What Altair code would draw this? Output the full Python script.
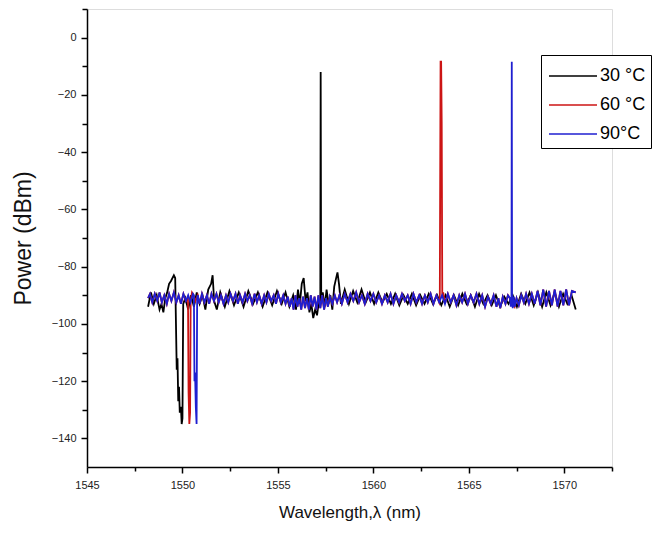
import altair as alt
import pandas as pd

# ---------------- data ----------------
series_names = ["30 °C", "60 °C", "90°C"]
series_colors = ["#000000", "#cc1414", "#1f1fd0"]

x_major = [1545, 1550, 1555, 1560, 1565, 1570]
x_minor = [1547.5, 1552.5, 1557.5, 1562.5, 1567.5, 1572.5]
y_major = [-140, -120, -100, -80, -60, -40, -20, 0]
y_minor = [-130, -110, -90, -70, -50, -30, -10, 10]

# 30 °C trace
black_wl = [1548.20, 1548.35, 1548.50, 1548.65, 1548.80, 1548.90, 1549.00, 1549.10, 1549.20, 1549.30,
            1549.40, 1549.55, 1549.62, 1549.66, 1549.70, 1549.74, 1549.78, 1549.82, 1549.86, 1549.92,
            1549.96, 1550.00, 1550.04, 1550.15, 1550.30, 1550.45, 1550.60, 1550.75, 1550.90, 1551.05,
            1551.20, 1551.35, 1551.50, 1551.58, 1551.66, 1551.80, 1551.98, 1552.22, 1552.46, 1552.70,
            1552.95, 1553.20, 1553.45, 1553.70, 1553.95, 1554.20, 1554.45, 1554.70, 1554.95, 1555.20,
            1555.40, 1555.60, 1555.80, 1555.95, 1556.05, 1556.15, 1556.25, 1556.35, 1556.45, 1556.55,
            1556.65, 1556.75, 1556.85, 1556.95, 1557.05, 1557.15, 1557.22, 1557.24, 1557.26, 1557.27,
            1557.35, 1557.45, 1557.55, 1557.65, 1557.75, 1557.85, 1557.95, 1558.05, 1558.12, 1558.20,
            1558.30, 1558.50, 1558.72, 1558.94, 1559.16, 1559.38, 1559.60, 1559.82, 1560.04, 1560.26,
            1560.48, 1560.70, 1560.92, 1561.14, 1561.36, 1561.58, 1561.80, 1562.02, 1562.24, 1562.46,
            1562.68, 1562.90, 1563.12, 1563.34, 1563.56, 1563.78, 1564.00, 1564.22, 1564.44, 1564.66,
            1564.88, 1565.10, 1565.32, 1565.54, 1565.76, 1565.98, 1566.20, 1566.42, 1566.64, 1566.86,
            1567.08, 1567.30, 1567.52, 1567.74, 1567.96, 1568.18, 1568.40, 1568.62, 1568.84, 1569.06,
            1569.28, 1569.50, 1569.72, 1569.94, 1570.16, 1570.38, 1570.60]
black_db = [-94, -89, -93, -90, -95, -93, -96, -91, -89, -86,
            -85, -83, -84, -100, -116, -112, -127, -122, -131, -129,
            -135, -133, -93, -91, -95, -90, -94, -89, -93, -90,
            -95, -88, -86, -83, -92, -95, -89, -94, -88.5, -93.5,
            -89, -94, -88.5, -93, -89, -94, -89, -93.5, -88.5, -93,
            -89, -94, -90, -95, -88, -93, -86, -84, -92, -89,
            -96, -93, -98, -95, -97, -92, -92, -12, -74, -93,
            -89, -94, -88, -93, -90, -95, -87, -84, -82, -86,
            -93, -88, -93, -88.5, -92.5, -88, -92.5, -89, -93, -89,
            -92.5, -89.5, -93, -89.5, -93.5, -90, -93, -89.5, -93.5, -90,
            -93, -89.5, -93, -90, -93.5, -90, -94, -90, -93.5, -89.5,
            -93, -90, -94, -89.5, -93, -90, -93.5, -90, -94, -90.5,
            -93, -90, -94, -89.5, -93, -89, -93.5, -89, -94, -89,
            -93.5, -89, -94, -89.5, -93, -90, -95]

# common noise floor of the 60 °C / 90 °C traces
floor_wl = [1548.20, 1548.30, 1548.42, 1548.55, 1548.68, 1548.80, 1548.92, 1549.05, 1549.18, 1549.30,
            1549.42, 1549.55, 1549.68, 1549.80, 1549.92, 1550.05, 1550.18, 1550.30, 1550.42, 1550.55,
            1550.68, 1550.80, 1550.90, 1551.02, 1551.15, 1551.28, 1551.40, 1551.52, 1551.65, 1551.78,
            1551.90, 1552.02, 1552.15, 1552.28, 1552.40, 1552.52, 1552.65, 1552.78, 1552.90, 1553.02,
            1553.15, 1553.28, 1553.40, 1553.52, 1553.65, 1553.78, 1553.90, 1554.02, 1554.15, 1554.28,
            1554.40, 1554.52, 1554.65, 1554.78, 1554.90, 1555.02, 1555.15, 1555.28, 1555.40, 1555.52,
            1555.62, 1555.72, 1555.82, 1555.92, 1556.02, 1556.12, 1556.22, 1556.32, 1556.42, 1556.52,
            1556.62, 1556.72, 1556.82, 1556.92, 1557.02, 1557.12, 1557.22, 1557.32, 1557.42, 1557.52,
            1557.62, 1557.72, 1557.85, 1557.98, 1558.10, 1558.22, 1558.35, 1558.50, 1558.65, 1558.80,
            1558.95, 1559.10, 1559.25, 1559.40, 1559.55, 1559.70, 1559.85, 1560.00, 1560.15, 1560.30,
            1560.45, 1560.60, 1560.75, 1560.90, 1561.05, 1561.20, 1561.35, 1561.50, 1561.65, 1561.80,
            1561.95, 1562.10, 1562.25, 1562.40, 1562.55, 1562.70, 1562.85, 1563.00, 1563.15, 1563.30,
            1563.45, 1563.60, 1563.75, 1563.90, 1564.05, 1564.20, 1564.35, 1564.50, 1564.65, 1564.80,
            1564.95, 1565.10, 1565.25, 1565.40, 1565.55, 1565.70, 1565.85, 1566.00, 1566.15, 1566.30,
            1566.45, 1566.55, 1566.65, 1566.78, 1566.92, 1567.05, 1567.40, 1567.50, 1567.62, 1567.75,
            1567.88, 1568.00, 1568.15, 1568.30, 1568.45, 1568.60, 1568.75, 1568.90, 1569.05, 1569.20,
            1569.35, 1569.50, 1569.65, 1569.80, 1569.95, 1570.10, 1570.25, 1570.40, 1570.60]
floor_db = [-91, -89.5, -92.5, -89.5, -92, -89, -92.5, -90, -93, -89.5,
            -92, -89, -92.5, -90, -93, -89.5, -92, -90, -92.5, -89.5,
            -92, -90, -93, -89.5, -92.5, -90, -93, -89.5, -92, -89.5,
            -92.5, -90, -93, -90, -92.5, -89.5, -92, -89.5, -93, -90,
            -92.5, -89.5, -92, -90, -93, -89.5, -92.5, -90, -93, -90,
            -92.5, -89.5, -92, -90, -93, -89.5, -92.5, -90, -93, -90.5,
            -94, -91, -95, -90, -94, -91, -95, -90.5, -94.5, -91,
            -95, -90, -94, -90.5, -95, -90, -94.5, -90, -95, -91,
            -94, -90.5, -93, -90, -92.5, -90, -93, -89.5, -92.5, -89.5,
            -92, -89, -92.5, -90, -93, -89.5, -92, -89.5, -92.5, -90,
            -93, -90, -92.5, -89.5, -93, -90, -92.5, -89.5, -92, -90,
            -93, -89.5, -92.5, -90, -93, -90, -92.5, -89.5, -93, -90,
            -92.5, -90, -93, -89.5, -92.5, -90, -93.5, -90, -92.5, -89.5,
            -93, -90, -92.5, -89.5, -93, -90, -94, -90.5, -93, -90,
            -94, -91, -94.5, -90.5, -93, -90, -94, -91, -93.5, -90,
            -92.5, -89.5, -93, -89.5, -93, -88.5, -93.5, -88, -94, -88.5,
            -93.5, -88, -94, -88.5, -93.5, -88, -93.5, -88.5, -89]

# features (dip and lasing peak) of the 60 °C trace
red_feat_wl = [1550.29, 1550.32, 1550.36, 1550.40, 1550.43, 1550.50,
               1563.48, 1563.52, 1563.55, 1563.58, 1563.61, 1563.66]
red_feat_db = [-91, -124, -135, -131, -92, -89,
               -91, -8.4, -8.4, -30, -91, -89]
red_windows = [(1550.27, 1550.52), (1563.46, 1563.70)]

# features (dip and lasing peak) of the 90 °C trace
blue_feat_wl = [1550.60, 1550.63, 1550.66, 1550.70, 1550.74, 1550.77,
                1567.15, 1567.20, 1567.235, 1567.25, 1567.265, 1567.30, 1567.35]
blue_feat_db = [-90, -120, -117, -129, -135, -91,
                -91, -94, -91, -8.4, -91, -94.5, -90.5]
blue_windows = [(1550.58, 1550.79), (1567.10, 1567.38)]


def build(name, wl, db):
    d = pd.DataFrame({"wl": wl, "db": db}).sort_values("wl").reset_index(drop=True)
    d["idx"] = range(len(d))
    d["series"] = name
    return d


def with_features(feat_wl, feat_db, windows):
    keep = [(w, v) for w, v in zip(floor_wl, floor_db)
            if not any(lo <= w <= hi for lo, hi in windows)]
    pts = keep + list(zip(feat_wl, feat_db))
    return [p[0] for p in pts], [p[1] for p in pts]


df_black = build(series_names[0], black_wl, black_db)
rw, rd = with_features(red_feat_wl, red_feat_db, red_windows)
df_red = build(series_names[1], rw, rd)
bw, bd = with_features(blue_feat_wl, blue_feat_db, blue_windows)
df_blue = build(series_names[2], bw, bd)

FONT = "Liberation Sans"
xscale = alt.Scale(domain=[1545, 1572.5], nice=False, zero=False)
yscale = alt.Scale(domain=[-150, 10], nice=False, zero=False)
cscale = alt.Scale(domain=series_names, range=series_colors)

x_axis = alt.Axis(values=x_major, title="Wavelength,\u03bb (nm)", orient="bottom",
                  labelFont=FONT, labelFontSize=11, labelColor="#222", labelPadding=6,
                  tickSize=6, tickColor="black", tickWidth=1.5, domainColor="black",
                  domainWidth=1.5, grid=False, titleFont=FONT, titleFontSize=17,
                  titleFontWeight="normal", titleColor="#111", titlePadding=14,
                  format="d", labelFlush=False)
y_axis = alt.Axis(values=y_major, title="Power (dBm)", orient="left",
                  labelFont=FONT, labelFontSize=11, labelColor="#222", labelPadding=5,
                  tickSize=6, tickColor="black", tickWidth=1.5, domainColor="black",
                  domainWidth=1.5, grid=False, titleFont=FONT, titleFontSize=23,
                  titleFontWeight="normal", titleColor="#111", titlePadding=16,
                  format="d", labelFlush=False)

legend = alt.Legend(orient="none", legendX=454, legendY=46, title=None,
                    strokeColor="black", fillColor="white", padding=5,
                    symbolType="M-1.6,0L1.6,0", symbolSize=900, symbolStrokeWidth=1.5,
                    symbolOffset=11, labelOffset=11, labelFont=FONT, labelFontSize=18,
                    labelColor="black", rowPadding=4)


def line(d, show_axes):
    enc = dict(
        x=alt.X("wl:Q", scale=xscale, axis=x_axis if show_axes else None),
        y=alt.Y("db:Q", scale=yscale, axis=y_axis if show_axes else None),
        color=alt.Color("series:N", scale=cscale, legend=legend),
        order=alt.Order("idx:Q"),
    )
    return alt.Chart(d).mark_line(strokeWidth=1.8, strokeJoin="miter").encode(**enc)


minor = alt.Chart(df_black.head(1)).mark_point(opacity=0).encode(
    x=alt.X("wl:Q", scale=xscale,
            axis=alt.Axis(values=x_minor, labels=False, title=None, domain=False, grid=False,
                          orient="bottom", tickSize=4, tickColor="black", tickWidth=1.5)),
    y=alt.Y("db:Q", scale=yscale,
            axis=alt.Axis(values=y_minor, labels=False, title=None, domain=False, grid=False,
                          orient="left", tickSize=5, tickColor="black", tickWidth=1.5)),
)

chart = alt.layer(
    line(df_black, True), line(df_red, False), line(df_blue, False), minor
).resolve_axis(x="independent", y="independent").properties(
    width=525, height=458,
    autosize=alt.AutoSizeParams(type="none"),
    padding={"left": 79, "top": 1, "right": 40, "bottom": 66},
).configure_view(stroke=None).configure(background="white")

chart.save("out.html", embed_options={"renderer": "svg", "actions": False})
